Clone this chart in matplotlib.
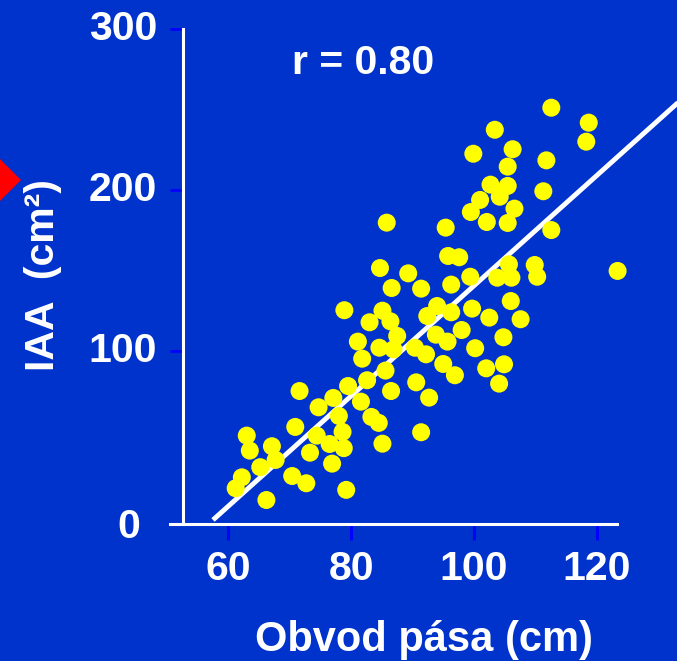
import matplotlib
matplotlib.use('Agg')
import matplotlib.pyplot as plt
from matplotlib.patches import Polygon

plt.rcParams['font.family'] = ['Liberation Sans', 'DejaVu Sans']
plt.rcParams['font.weight'] = 'bold'

# waist circumference (cm) vs intra-abdominal area (cm2)
waist = [112.6, 118.7, 103.4, 118.3, 106.3, 99.9, 111.8, 105.5, 102.7, 105.5,
         111.3, 104.2, 101.0, 106.6, 99.5, 85.8, 102.1, 105.5, 95.4, 112.6,
         95.8, 97.6, 84.7, 89.3, 105.7, 109.9, 110.3, 99.4, 103.8, 106.1,
         123.4, 86.6, 91.4, 96.3, 106.0, 94.0, 78.9, 85.1, 92.4, 96.3,
         99.7, 102.5, 107.6, 83.0, 86.4, 87.5, 93.8, 95.7, 98.0, 104.8,
         81.1, 84.6, 86.9, 90.4, 92.2, 100.2, 81.8, 95.0, 96.9, 102.0,
         104.9, 104.1, 85.6, 82.6, 79.5, 86.5, 90.6, 92.7, 71.6, 74.7,
         77.1, 81.6, 78.0, 83.3, 84.5, 70.9, 78.6, 74.4, 91.4, 63.0,
         67.1, 63.5, 76.5, 78.8, 73.3, 85.1, 67.7, 65.2, 76.9, 62.2,
         61.2, 70.4, 72.7, 79.2, 66.2]
iaa = [251.3, 242.0, 237.6, 230.2, 225.5, 222.7, 218.6, 214.7, 203.5, 202.7,
       199.4, 196.0, 194.0, 188.6, 186.5, 179.9, 180.3, 179.7, 176.8, 175.3,
       159.2, 158.4, 151.7, 148.4, 154.0, 153.6, 146.3, 146.3, 145.7, 145.7,
       149.9, 139.3, 138.9, 141.4, 131.2, 128.1, 125.5, 125.2, 121.9, 124.2,
       126.5, 120.9, 119.9, 118.0, 118.6, 109.5, 110.3, 106.0, 113.2, 108.7,
       106.0, 102.2, 101.2, 102.2, 98.1, 101.9, 95.4, 92.1, 85.1, 89.4,
       91.9, 79.9, 88.0, 82.0, 78.4, 75.3, 80.7, 71.2, 75.3, 65.2,
       71.0, 68.7, 59.8, 59.2, 55.5, 53.0, 49.9, 47.6, 49.7, 47.6,
       41.0, 38.3, 42.4, 39.8, 37.0, 42.6, 32.5, 28.0, 30.2, 21.7,
       14.9, 22.5, 18.0, 13.9, 7.6]

# regression line
fit_x = [57.5, 135.0]
slope = 3.423
intercept = -201.6

xticks = [60, 80, 100, 120]
yticks = [100, 200, 300]
r_text = 'r = 0.80'

bg = '#0033cc'
fig = plt.figure(figsize=(6.77, 6.61), dpi=100, facecolor=bg)
ax = fig.add_axes([170 / 677, 1 - 524 / 661, 447 / 677, 494.7 / 661])
ax.set_facecolor(bg)
ax.patch.set_visible(False)

ax.set_xlim(50.5, 123.3)
ax.set_ylim(-7.3, 300)

fit_y = [slope * v + intercept for v in fit_x]
ax.plot(fit_x, fit_y, color='white', lw=3.5, solid_capstyle='butt', clip_on=False, zorder=2)
ax.scatter(waist, iaa, s=168, color='#ffff00', edgecolors='none', clip_on=False, zorder=3)

for s in ['top', 'right']:
    ax.spines[s].set_visible(False)
ax.spines['left'].set_position(('data', 52.67))
for s in ['left', 'bottom']:
    ax.spines[s].set_color('white')
    ax.spines[s].set_linewidth(2.2)

ax.set_xticks(xticks)
ax.set_xticklabels([str(v) for v in xticks])
ax.set_yticks(yticks)
ax.set_yticklabels([str(v) for v in yticks])
ax.tick_params(axis='x', direction='out', length=11.5, width=2.2, color='#0000ff',
               labelcolor='white', labelsize=29.5, pad=7)
ax.tick_params(axis='y', direction='out', length=9.4, width=2.0, color='#0000ff',
               labelcolor='white', labelsize=29.5, pad=9.5)
for lbl in ax.get_xticklabels() + ax.get_yticklabels():
    lbl.set_fontweight('bold')
for lbl in ax.get_yticklabels():
    lbl.set_verticalalignment('center')

# the zero label sits on the x axis line
fig.text(140 / 677, 1 - 527 / 661, '0', color='white', fontsize=29.5, fontweight='bold',
         ha='right', va='center')

fig.text(363.2 / 677, 1 - 74.3 / 661, r_text, color='white', fontsize=29.5,
         fontweight='bold', ha='center', va='baseline')
fig.text(424 / 677, 1 - 651 / 661, 'Obvod pása (cm)', color='white', fontsize=30,
         fontweight='bold', ha='center', va='baseline')
fig.text(42.5 / 677, 1 - 275 / 661, 'IAA  (cm²)', color='white', fontsize=29.5,
         fontweight='bold', ha='center', va='center', rotation=90)

# red bullet marker at the left edge
W, H = 677, 661
diamond = [(-25, 180), (-2, 157), (21, 180), (-2, 203)]
fig.patches.append(Polygon([(px / W, 1 - py / H) for px, py in diamond], closed=True,
                           transform=fig.transFigure, facecolor='#ff0000', edgecolor='none'))

fig.savefig('out.png', dpi=100, facecolor=bg)
